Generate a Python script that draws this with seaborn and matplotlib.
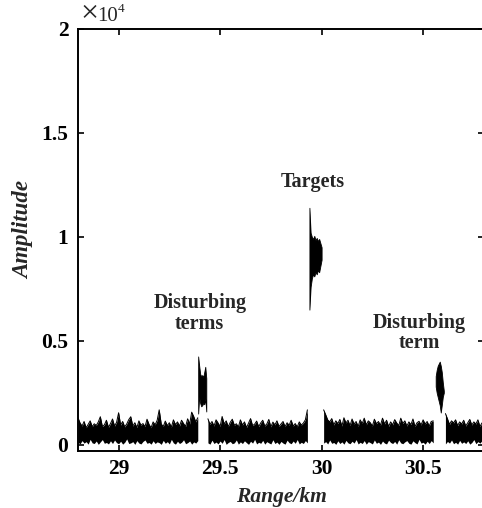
import numpy as np
import pandas as pd
import matplotlib
matplotlib.use("Agg")
import matplotlib.pyplot as plt
import seaborn as sns

nan = np.nan

# range samples of the echo (km), one every 10 m
range_km = np.round(np.arange(28.80, 30.805, 0.01), 2)

# upper edge of the noise floor (amplitude)
noise_top = [
    1300, 1050, 900, 1120, 820, 980, 1150, 870, 1010, 930,
    1100, 1350, 880, 960, 1180, 840, 1020, 1240, 900, 1080,
    1540, 950, 1120, 860, 1000, 1210, 1350, 900, 1060, 830,
    1150, 940, 1020, 870, 1230, 980, 820, 1100, 960, 1180,
    1680, 1000, 880, 1140, 920, 1060, 850, 1200, 970, 1100,
    900, 1180, 1020, 880, 1250, 1000, 1570, 1360, 1100, 1300,
    nan, nan, nan, nan,
    1250, 980, 1120, 900, 1200, 1050,
    880, 1360, 1000, 1150, 870, 1080, 1230, 940, 1010, 860,
    1200, 950, 1100, 830, 1040, 1260, 920, 990, 1140, 870,
    1050, 1180, 900, 1000, 1220, 860, 1090, 960, 1150, 880,
    1000, 1120, 870, 1060, 940, 1180, 900, 1020, 860, 1100,
    950, 1040, 1200, 1680,
    nan, nan, nan, nan, nan, nan, nan,
    1680, 1450, 1200, 1100, 1260, 950, 1150, 1020, 1220,
    900, 1300, 1050, 1180, 920, 1240, 1000, 1120, 880, 1200,
    1020, 1280, 960, 1150, 1060, 900, 1230, 1010, 1120, 940,
    1280, 1000, 1180, 880, 1100, 960, 1210, 1050, 920, 1280,
    1020, 1150, 900, 1100, 970, 1240, 880, 1060, 1130, 950,
    1200, 1000, 1120, 900, 1120, 1150,
    nan, nan, nan, nan, nan,
    1500, 1250, 980, 1150, 1050, 1200, 920, 1100, 1000,
    1180, 900, 1060, 1220, 950, 1100, 1000, 1200, 880, 1050, 1000,
]

# lower edge of the noise floor
noise_bottom = [
    120, 40, 200, 80, 150, 30, 260, 90, 60, 180,
    20, 140, 250, 70, 110, 40, 190, 60, 230, 100,
    50, 170, 30, 120, 280, 60, 90, 150, 20, 200,
    80, 40, 160, 230, 70, 110, 30, 190, 60, 140,
    100, 20, 210, 70, 150, 40, 260, 90, 30, 170,
    60, 120, 240, 50, 100, 180, 30, 140, 80, 200,
    nan, nan, nan, nan,
    90, 30, 220, 60, 130, 40,
    180, 70, 250, 20, 110, 160, 50, 90, 230, 30,
    140, 60, 190, 100, 20, 170, 80, 260, 40, 120,
    70, 210, 30, 150, 90, 40, 240, 60, 130, 20,
    160, 80, 30, 220, 100, 50, 180, 70, 250, 40,
    120, 60, 200, 90,
    nan, nan, nan, nan, nan, nan, nan,
    80, 150, 40, 230, 70, 110, 20, 190, 60,
    140, 30, 210, 90, 50, 170, 80, 250, 40, 120,
    60, 200, 30, 150, 100, 40, 230, 70, 130, 20,
    180, 80, 40, 220, 110, 60, 160, 30, 240, 90,
    50, 140, 200, 70, 30, 190, 100, 40, 260, 80,
    120, 30, 170, 60, 200, 90,
    nan, nan, nan, nan, nan,
    40, 160, 80, 230, 50, 120, 30, 210, 70,
    140, 60, 190, 30, 110, 250, 50, 150, 80, 200, 40,
]

# first disturbing term
dist1_range = [29.392, 29.397, 29.402, 29.407, 29.412, 29.417, 29.422, 29.427, 29.432]
dist1_top = [4250, 3800, 3400, 3300, 3350, 3250, 3500, 3750, 3200]
dist1_bottom = [1500, 2300, 2000, 1850, 1900, 2000, 1950, 2200, 1600]

# targets
target_range = [29.940, 29.946, 29.952, 29.958, 29.964, 29.970, 29.976, 29.982, 29.988, 29.994, 30.000]
target_top = [11400, 10200, 10000, 9900, 10050, 9850, 9950, 9800, 9900, 9700, 9500]
target_bottom = [6500, 7600, 8000, 8200, 8100, 8300, 8200, 8400, 8300, 8600, 8900]

# second disturbing term
dist2_range = [30.562, 30.567, 30.572, 30.577, 30.582, 30.587, 30.592, 30.597, 30.602]
dist2_top = [3300, 3600, 3800, 3900, 4000, 3800, 3500, 3000, 2600]
dist2_bottom = [2800, 2500, 2300, 2100, 1900, 1550, 1900, 2300, 2500]

ytick_values = [0, 5000, 10000, 15000, 20000]
ytick_labels = ["0", "0.5", "1", "1.5", "2"]
xtick_values = [29, 29.5, 30, 30.5]
xtick_labels = ["29", "29.5", "30", "30.5"]

sns.set_theme(style="ticks")
plt.rcParams["font.family"] = ["Liberation Serif", "DejaVu Serif"]

fig = plt.figure(figsize=(4.82, 5.08), dpi=100)
ax = fig.add_axes([78 / 482, 1 - 451 / 508, 406 / 482, 422 / 508])

# noise floor: split into contiguous pieces between the gaps
df = pd.DataFrame({"range": range_km, "top": noise_top, "bottom": noise_bottom})
df["piece"] = df["top"].isna().cumsum()
df = df.dropna()
for _, part in df.groupby("piece"):
    ax.fill_between(part["range"], part["bottom"], part["top"], color="black", lw=0)
sns.lineplot(data=df, x="range", y="top", units="piece", estimator=None,
             color="black", lw=0.7, ax=ax)

ax.fill_between(dist1_range, dist1_bottom, dist1_top, color="black", lw=0.6)
ax.fill_between(target_range, target_bottom, target_top, color="black", lw=0.6)
ax.fill_between(dist2_range, dist2_bottom, dist2_top, color="black", lw=0.6)

ax.set_xlim(28.8, 30.8)
ax.set_ylim(-300, 20000)
ax.set_xticks(xtick_values, xtick_labels)
ax.set_yticks(ytick_values, ytick_labels)
for lab in ax.get_xticklabels() + ax.get_yticklabels():
    lab.set_fontweight("bold")
ax.tick_params(direction="in", length=4, width=1.2, top=True, right=True,
               labelsize=15.5, colors="black")
ax.tick_params(axis="y", pad=7)
ax.tick_params(axis="x", pad=6)
for s in ax.spines.values():
    s.set_linewidth(1.4)
    s.set_color("black")

ax.set_xlabel("Range/km", fontsize=15.5, fontweight="bold", style="italic")
ax.set_ylabel("Amplitude", fontsize=16.5, fontweight="bold", style="italic", va="center")
ax.xaxis.set_label_coords(0.5, -0.085)
ax.yaxis.set_label_coords(-0.135, 0.524)

# multiplier shown above the y axis
fig.text(80 / 482, 1 - 21 / 508, "\u00d7", fontsize=23, ha="left", va="baseline")
fig.text(97 / 482, 1 - 21 / 508, "10", fontsize=15, ha="left", va="baseline")
fig.text(118 / 482, 1 - 12 / 508, "4", fontsize=9.5, ha="left", va="baseline")

text_kw = dict(fontsize=14.5, fontweight="bold", ha="center", va="center", linespacing=1.05)
ax.text(29.40, 6300, "Disturbing\nterms", **text_kw)
ax.text(29.955, 12650, "Targets", **text_kw)
ax.text(30.48, 5380, "Disturbing\nterm", **text_kw)

fig.savefig("out.png", dpi=100)
